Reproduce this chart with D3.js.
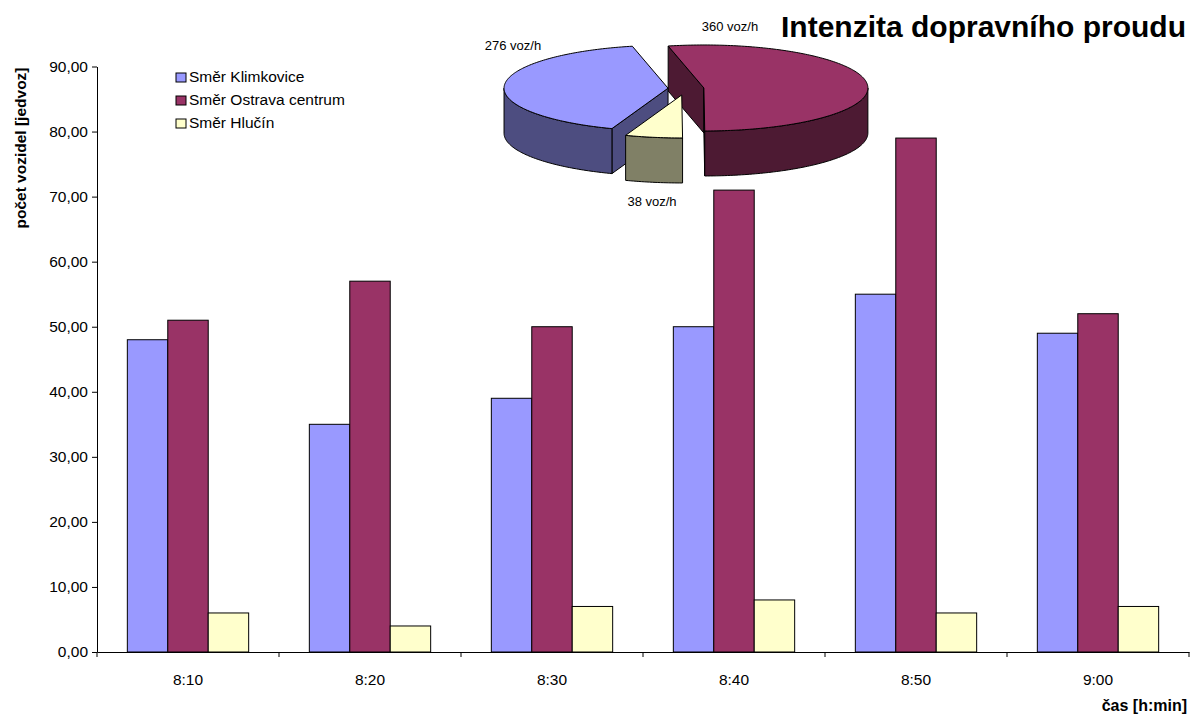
<!DOCTYPE html>
<html>
<head>
<meta charset="utf-8">
<script src="https://cdn.jsdelivr.net/npm/d3@7"></script>
<style>
  html, body { margin: 0; padding: 0; background: #fff; }
  svg { display: block; font-family: Arial, "Liberation Sans", sans-serif; }
</style>
</head>
<body>
<svg id="chart" width="1192" height="715"></svg>
<script>
// Vehicle counts per 10-minute interval, one array per direction
const categories = ["8:10", "8:20", "8:30", "8:40", "8:50", "9:00"];
const seriesNames = ["Směr Klimkovice", "Směr Ostrava centrum", "Směr Hlučín"];
const klimkovice = [48, 35, 39, 50, 55, 49];
const ostrava = [51, 57, 50, 71, 79, 52];
const hlucin = [6, 4, 7, 8, 6, 7];
const yTicks = [0, 10, 20, 30, 40, 50, 60, 70, 80, 90];
const titleText = "Intenzita dopravního proudu";
const yLabel = "počet vozidel [jedvoz]";
const xLabel = "čas [h:min]";
const unitLabel = " voz/h";

const seriesValues = [klimkovice, ostrava, hlucin];
const colors = ["#9999FF", "#993366", "#FFFFCC"];

const svg = d3.select("#chart");
const plot = { left: 97, right: 1189, top: 66.5, bottom: 652 };

const csLocale = d3.formatLocale({ decimal: ",", thousands: " ", grouping: [3], currency: ["", " Kč"] });
const fmt = csLocale.format(".2f");

const x = d3.scaleBand().domain(categories).range([plot.left, plot.right]).padding(0);
const xs = d3.scaleBand().domain(seriesNames).range([0, x.bandwidth()]).paddingInner(0).paddingOuter(0.75);
const y = d3.scaleLinear().domain([0, 90]).range([plot.bottom, plot.top]);

// Y axis
const yAxis = svg.append("g")
  .attr("transform", `translate(${plot.left},0)`)
  .call(d3.axisLeft(y).tickValues(yTicks).tickFormat(fmt).tickSize(5).tickSizeOuter(0).tickPadding(4));
yAxis.selectAll("text").attr("font-size", 15.5).attr("fill", "#000").attr("font-family", null);
yAxis.selectAll("line,path").attr("stroke", "#000");

// Bars
const rows = categories.map((c, i) => ({ cat: c, vals: seriesValues.map(s => s[i]) }));
const groups = svg.append("g").selectAll("g").data(rows).join("g")
  .attr("transform", d => `translate(${x(d.cat)},0)`);
groups.selectAll("rect")
  .data(d => d.vals.map((v, k) => ({ name: seriesNames[k], v, k })))
  .join("rect")
  .attr("x", d => xs(d.name))
  .attr("width", xs.bandwidth())
  .attr("y", d => y(d.v))
  .attr("height", d => y(0) - y(d.v))
  .attr("fill", d => colors[d.k])
  .attr("stroke", "#000")
  .attr("stroke-width", 1);

// X axis: labels centred in categories, ticks on category boundaries
const xAxis = svg.append("g")
  .attr("transform", `translate(0,${plot.bottom})`)
  .call(d3.axisBottom(x).tickSize(0).tickSizeOuter(0).tickPadding(22));
xAxis.selectAll("text").attr("font-size", 15.5).attr("fill", "#000").attr("font-family", null);
xAxis.select("path").attr("stroke", "#000");
const bounds = categories.map(c => x(c)).concat([x.range()[1]]);
svg.append("g").selectAll("line").data(bounds).join("line")
  .attr("x1", d => d).attr("x2", d => d)
  .attr("y1", plot.bottom).attr("y2", plot.bottom + 5)
  .attr("stroke", "#000");

// Axis titles
svg.append("text")
  .attr("transform", "translate(26,148) rotate(-90)")
  .attr("text-anchor", "middle")
  .attr("font-weight", "bold").attr("font-size", 15.5)
  .text(yLabel);
svg.append("text")
  .attr("x", 1187).attr("y", 711)
  .attr("text-anchor", "end")
  .attr("font-weight", "bold").attr("font-size", 16)
  .text(xLabel);

// Title
svg.append("text")
  .attr("x", 1186).attr("y", 37)
  .attr("text-anchor", "end")
  .attr("font-weight", "bold").attr("font-size", 30)
  .text(titleText);

// Legend
const legend = svg.append("g").attr("transform", "translate(176,73)");
const li = legend.selectAll("g").data(seriesNames).join("g")
  .attr("transform", (d, i) => `translate(0,${i * 23})`);
li.append("rect").attr("width", 10).attr("height", 9)
  .attr("fill", (d, i) => colors[i]).attr("stroke", "#000");
li.append("text").attr("x", 13).attr("y", 9).attr("font-size", 15.5).text(d => d);

// 3D pie of totals per direction
const totals = seriesValues.map(s => d3.sum(s));
const pie = { cx: 686, cy: 88.5, rx: 164, ry: 43, depth: 45 };
const explode = [18, 18, 25];
const startDeg = 200;
const arcs = d3.pie().sort(null)
  .startAngle(startDeg * Math.PI / 180)
  .endAngle(startDeg * Math.PI / 180 + 2 * Math.PI)(totals);

// side faces use the top colour at half brightness
function shade(c) { const r = d3.rgb(c); return d3.rgb(r.r * 0.5, r.g * 0.5, r.b * 0.5).formatHex(); }
function pt(c, a, dy = 0) { return [c[0] + pie.rx * Math.sin(a), c[1] - pie.ry * Math.cos(a) + dy]; }
function arcPts(c, a0, a1, dy = 0) {
  const n = Math.max(2, Math.ceil(Math.abs(a1 - a0) / (Math.PI / 180)));
  return d3.range(n + 1).map(i => pt(c, a0 + (a1 - a0) * i / n, dy));
}
const line = d3.line();

const slices = arcs.map((a, i) => {
  const mid = (a.startAngle + a.endAngle) / 2;
  const e = explode[i];
  const c = [pie.cx + e * Math.sin(mid), pie.cy - e * Math.cos(mid) * pie.ry / pie.rx];
  return { a, i, mid, c };
});
// paint far slices first
slices.sort((p, q) => (-Math.cos(p.mid)) - (-Math.cos(q.mid)));

const pg = svg.append("g");
slices.forEach(s => {
  const { a, i, c } = s;
  const col = colors[i], side = shade(col);
  const d = pie.depth;
  const g = pg.append("g");
  // radial cut faces that face the viewer
  [[a.startAngle, Math.sin(a.startAngle) < -1e-6], [a.endAngle, Math.sin(a.endAngle) > 1e-6]].forEach(([ang, vis]) => {
    if (!vis) return;
    const o = pt(c, ang);
    g.append("path")
      .attr("d", line([c, o, [o[0], o[1] + d], [c[0], c[1] + d]]) + "Z")
      .attr("fill", side).attr("stroke", "#000").attr("stroke-width", 1).attr("stroke-linejoin", "round");
  });
  // outer wall on the front half of the ellipse
  for (let k = -1; k <= 2; k++) {
    const lo = Math.max(a.startAngle, Math.PI / 2 + 2 * Math.PI * k);
    const hi = Math.min(a.endAngle, 3 * Math.PI / 2 + 2 * Math.PI * k);
    if (hi - lo > 1e-6) {
      const top = arcPts(c, lo, hi), bot = arcPts(c, hi, lo, d);
      g.append("path").attr("d", line(top.concat(bot)) + "Z")
        .attr("fill", side).attr("stroke", "#000").attr("stroke-width", 1).attr("stroke-linejoin", "round");
    }
  }
  // top face
  g.append("path").attr("d", line([c].concat(arcPts(c, a.startAngle, a.endAngle))) + "Z")
    .attr("fill", col).attr("stroke", "#000").attr("stroke-width", 1).attr("stroke-linejoin", "round");
});

// Pie value labels
const labelPos = [[513, 50], [730, 31], [652, 206]];
svg.append("g").selectAll("text").data(totals).join("text")
  .attr("x", (d, i) => labelPos[i][0]).attr("y", (d, i) => labelPos[i][1])
  .attr("text-anchor", "middle").attr("font-size", 13)
  .text(d => d + unitLabel);
</script>
</body>
</html>
